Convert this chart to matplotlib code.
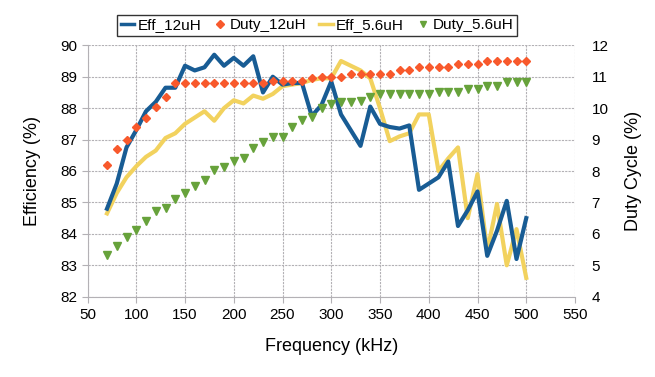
import matplotlib.pyplot as plt
from matplotlib.lines import Line2D

plt.rcParams['font.family'] = ['Liberation Sans', 'DejaVu Sans']

freq = list(range(70, 501, 10))

eff_12 = [84.8, 85.6, 86.75, 87.3, 87.9, 88.2, 88.65, 88.65, 89.35, 89.2,
          89.3, 89.7, 89.35, 89.6, 89.35, 89.65, 88.5, 89.0, 88.75, 88.8,
          88.8, 87.75, 88.1, 88.85, 87.8, 87.3, 86.8, 88.05, 87.5, 87.4,
          87.35, 87.45, 85.4, 85.6, 85.8, 86.3, 84.25, 84.75, 85.35, 83.3,
          84.1, 85.05, 83.2, 84.5]

eff_56 = [84.65, 85.3, 85.8, 86.15, 86.45, 86.65, 87.05, 87.2, 87.5, 87.7,
          87.9, 87.6, 88.0, 88.25, 88.15, 88.4, 88.3, 88.45, 88.7, 88.75,
          88.8, 88.9, 88.95, 88.95, 89.5, 89.35, 89.2, 88.95, 88.0, 86.95,
          87.1, 87.2, 87.8, 87.8, 86.0, 86.4, 86.75, 84.5, 85.9, 83.45,
          84.95, 83.0, 84.15, 82.6]

duty_12 = [8.2, 8.7, 9.0, 9.4, 9.7, 10.05, 10.35, 10.8, 10.8, 10.8,
           10.8, 10.8, 10.8, 10.8, 10.8, 10.8, 10.8, 10.85, 10.85, 10.85,
           10.85, 10.95, 11.0, 11.0, 11.0, 11.1, 11.1, 11.1, 11.1, 11.1,
           11.2, 11.2, 11.3, 11.3, 11.3, 11.3, 11.4, 11.4, 11.4, 11.5,
           11.5, 11.5, 11.5, 11.5]

duty_56 = [5.32, 5.61, 5.9, 6.12, 6.41, 6.72, 6.81, 7.1, 7.31, 7.52,
           7.71, 8.03, 8.12, 8.32, 8.42, 8.72, 8.91, 9.09, 9.09, 9.39,
           9.62, 9.71, 10.0, 10.13, 10.2, 10.2, 10.24, 10.34, 10.45, 10.45,
           10.45, 10.45, 10.45, 10.45, 10.52, 10.52, 10.52, 10.62, 10.62, 10.71,
           10.71, 10.82, 10.82, 10.82]

blue = '#185c94'
yellow = '#f2d25e'
orange = '#f8592c'
green = '#67a23b'
grid_col = '#b3b1b5'

fig = plt.figure(figsize=(6.55, 3.77), dpi=100)
ax = fig.add_axes([87.5 / 655, 1 - 296.7 / 377, 487.5 / 655, 251.4 / 377])
ax2 = ax.twinx()

ax.plot(freq, eff_56, color=yellow, lw=3.0, zorder=2)
ax.plot(freq, eff_12, color=blue, lw=3.0, zorder=3)
ax2.plot(freq, duty_12, 'D', color=orange, ms=4.2, mec=orange, zorder=4)
ax2.plot(freq, duty_56, 'v', color=green, ms=5.3, mec=green, zorder=4)

ax.set_xlim(50, 550)
ax.set_ylim(82, 90)
ax2.set_ylim(4, 12)
ax.set_xticks(range(50, 551, 50))
ax.set_yticks(range(82, 91))
ax2.set_yticks(range(4, 13))

ax.grid(True, color=grid_col, lw=0.8, linestyle=(0, (2, 1)))
ax.set_axisbelow(True)

for s in ['top', 'right']:
    ax.spines[s].set_visible(False)
for s in ax2.spines.values():
    s.set_visible(False)
ax.spines['left'].set_color(grid_col)
ax.spines['bottom'].set_color(grid_col)

ax.tick_params(axis='both', colors=grid_col, labelcolor='black', labelsize=11, length=4)
ax.tick_params(axis='x', pad=4)
ax2.tick_params(axis='y', length=0, labelsize=11, pad=12)

ax.set_xlabel('Frequency (kHz)', fontsize=13, labelpad=12)
ax.set_ylabel('Efficiency (%)', fontsize=13, labelpad=14)
ax2.set_ylabel('Duty Cycle (%)', fontsize=13, labelpad=12)

handles = [
    Line2D([], [], color=blue, lw=2.5),
    Line2D([], [], marker='D', ls='none', color=orange, ms=4),
    Line2D([], [], color=yellow, lw=2.5),
    Line2D([], [], marker='v', ls='none', color=green, ms=5),
]
labels = ['Eff_12uH', 'Duty_12uH', 'Eff_5.6uH', 'Duty_5.6uH']
leg = fig.legend(handles, labels, loc='center', bbox_to_anchor=(317 / 655, 1 - 25.5 / 377),
                 ncol=4, fontsize=11, frameon=True, fancybox=False, handlelength=0.9,
                 handletextpad=0.2, columnspacing=0.8, borderpad=0.25)
leg.get_frame().set_edgecolor('black')
leg.get_frame().set_linewidth(1.0)

fig.savefig('out.png', dpi=100)
